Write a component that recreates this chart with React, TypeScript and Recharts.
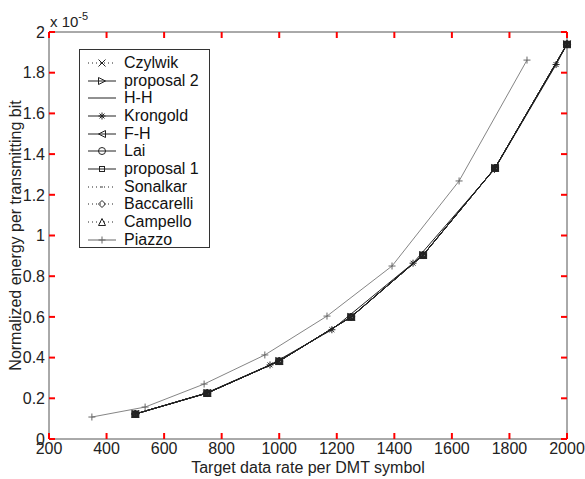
import React from 'react';
import {
  ComposedChart,
  Line,
  XAxis,
  YAxis,
  Legend,
} from 'recharts';

// target data rates (bits per DMT symbol) shared by most algorithms
const rates = [500, 750, 1000, 1250, 1500, 1750, 2000];
// normalized energy per bit (x 1e-5) - the overlapping curves
const mainEnergy = [0.123, 0.226, 0.383, 0.6, 0.904, 1.332, 1.94];

const krongoldRates = [500, 745, 968, 1183, 1465, 1748, 1962, 2000];
const krongoldEnergy = [0.123, 0.225, 0.364, 0.537, 0.864, 1.325, 1.84, 1.94];

const piazzoRates = [349, 534, 739, 950, 1166, 1392, 1625, 1861];
const piazzoEnergy = [0.108, 0.157, 0.27, 0.413, 0.604, 0.85, 1.268, 1.862];

const xTicks = [200, 400, 600, 800, 1000, 1200, 1400, 1600, 1800, 2000];
const yTicks = [0, 0.2, 0.4, 0.6, 0.8, 1, 1.2, 1.4, 1.6, 1.8, 2];

const toPoints = (xs: number[], ys: number[]) => xs.map((x, i) => ({ x, y: ys[i] }));

const mainPoints = toPoints(rates, mainEnergy);

type MarkerKind = 'x' | 'triRight' | 'none' | 'star' | 'triLeft' | 'circle' | 'square' | 'dot' | 'diamond' | 'triUp' | 'plus';

interface SeriesDef {
  name: string;
  marker: MarkerKind;
  dashed: boolean;
  color: string;
  data: { x: number; y: number }[];
}

const series: SeriesDef[] = [
  { name: 'Czylwik', marker: 'x', dashed: true, color: '#222', data: mainPoints },
  { name: 'proposal 2', marker: 'triRight', dashed: false, color: '#222', data: mainPoints },
  { name: 'H-H', marker: 'none', dashed: false, color: '#222', data: mainPoints },
  { name: 'Krongold', marker: 'star', dashed: false, color: '#222', data: toPoints(krongoldRates, krongoldEnergy) },
  { name: 'F-H', marker: 'triLeft', dashed: false, color: '#222', data: mainPoints },
  { name: 'Lai', marker: 'circle', dashed: false, color: '#222', data: mainPoints },
  { name: 'proposal 1', marker: 'square', dashed: false, color: '#222', data: mainPoints },
  { name: 'Sonalkar', marker: 'dot', dashed: true, color: '#222', data: mainPoints },
  { name: 'Baccarelli', marker: 'diamond', dashed: true, color: '#222', data: mainPoints },
  { name: 'Campello', marker: 'triUp', dashed: true, color: '#222', data: mainPoints },
  { name: 'Piazzo', marker: 'plus', dashed: false, color: '#666', data: toPoints(piazzoRates, piazzoEnergy) },
];

const FONT = '"Liberation Sans", Arial, Helvetica, sans-serif';
const AXIS_COLOR = '#555';
const TICK_COLOR = 'red';
const TICK_LEN = 6;

function Marker({ kind, cx, cy, color }: { kind: MarkerKind; cx: number; cy: number; color: string }) {
  const s = 3.5;
  const common = { stroke: color, strokeWidth: 1, fill: 'none' };
  switch (kind) {
    case 'x':
      return (
        <g {...common}>
          <line x1={cx - s} y1={cy - s} x2={cx + s} y2={cy + s} />
          <line x1={cx - s} y1={cy + s} x2={cx + s} y2={cy - s} />
        </g>
      );
    case 'plus':
      return (
        <g {...common}>
          <line x1={cx - s} y1={cy} x2={cx + s} y2={cy} />
          <line x1={cx} y1={cy - s} x2={cx} y2={cy + s} />
        </g>
      );
    case 'star':
      return (
        <g {...common}>
          <line x1={cx - s} y1={cy} x2={cx + s} y2={cy} />
          <line x1={cx} y1={cy - s} x2={cx} y2={cy + s} />
          <line x1={cx - s * 0.7} y1={cy - s * 0.7} x2={cx + s * 0.7} y2={cy + s * 0.7} />
          <line x1={cx - s * 0.7} y1={cy + s * 0.7} x2={cx + s * 0.7} y2={cy - s * 0.7} />
        </g>
      );
    case 'triRight':
      return <polygon {...common} points={`${cx + s},${cy} ${cx - s},${cy - s} ${cx - s},${cy + s}`} />;
    case 'triLeft':
      return <polygon {...common} points={`${cx - s},${cy} ${cx + s},${cy - s} ${cx + s},${cy + s}`} />;
    case 'triUp':
      return <polygon {...common} points={`${cx},${cy - s} ${cx - s},${cy + s} ${cx + s},${cy + s}`} />;
    case 'diamond':
      return <polygon {...common} points={`${cx},${cy - s} ${cx + s},${cy} ${cx},${cy + s} ${cx - s},${cy}`} />;
    case 'circle':
      return <circle {...common} cx={cx} cy={cy} r={s} />;
    case 'square':
      return <rect {...common} x={cx - s + 1} y={cy - s + 1} width={2 * s - 2} height={2 * s - 2} />;
    case 'dot':
      return <circle cx={cx} cy={cy} r={0.8} fill={color} />;
    default:
      return <g />;
  }
}

const renderLegend = () => (
  <div
    style={{
      border: '1px solid #333',
      background: '#fff',
      width: 129,
      height: 193,
      paddingTop: 4,
      boxSizing: 'content-box',
      fontFamily: FONT,
      fontSize: 16,
      color: '#111',
    }}
  >
    {series.map((s) => (
      <div key={s.name} style={{ display: 'flex', alignItems: 'center', height: 17.7 }}>
        <svg width={44} height={12} style={{ flex: 'none' }}>
          <line
            x1={8}
            x2={36}
            y1={6}
            y2={6}
            stroke={s.color}
            strokeWidth={1}
            strokeDasharray={s.dashed ? '1 3' : undefined}
          />
          <Marker kind={s.marker} cx={22} cy={6} color={s.color} />
        </svg>
        <span style={{ whiteSpace: 'nowrap' }}>{s.name}</span>
      </div>
    ))}
  </div>
);

const YLabel = ({ viewBox }: any) => {
  const x = viewBox.x + 15;
  const y = viewBox.y + viewBox.height / 2;
  return (
    <text
      x={x}
      y={y}
      transform={`rotate(-90, ${x}, ${y})`}
      textAnchor="middle"
      dominantBaseline="central"
      fontFamily={FONT}
      fontSize={16}
      fill="#222"
    >
      Normalized energy per transmitting bit
    </text>
  );
};

const XLabel = ({ viewBox }: any) => (
  <text
    x={viewBox.x + viewBox.width / 2}
    y={viewBox.y + 28}
    textAnchor="middle"
    dominantBaseline="central"
    fontFamily={FONT}
    fontSize={16}
    fill="#222"
  >
    Target data rate per DMT symbol
  </text>
);

const ExponentLabel = ({ viewBox }: any) => (
  <text x={viewBox.x + 1} y={viewBox.y - 4} fontFamily={FONT} fontSize={15} fill="#222">
    x 10
    <tspan dy={-7} fontSize={11}>
      -5
    </tspan>
  </text>
);

// ticks point inward (MATLAB style), so each tick draws its own short line
const BOTTOM_MARGIN = 3;
const LEFT_MARGIN = 4;

const BottomTick = ({ x, y, payload }: any) => (
  <g>
    <line x1={x} x2={x} y1={y - BOTTOM_MARGIN} y2={y - BOTTOM_MARGIN - TICK_LEN} stroke={TICK_COLOR} strokeWidth={2} />
    <text x={x} y={y} dy="0.75em" textAnchor="middle" fontFamily={FONT} fontSize={16} fill="#222">
      {payload.value}
    </text>
  </g>
);

const LeftTick = ({ x, y, payload }: any) => (
  <g>
    <line x1={x + LEFT_MARGIN} x2={x + LEFT_MARGIN + TICK_LEN} y1={y} y2={y} stroke={TICK_COLOR} strokeWidth={2} />
    <text x={x} y={y} dy="0.36em" textAnchor="end" fontFamily={FONT} fontSize={16} fill="#222">
      {String(payload.value)}
    </text>
  </g>
);

const TopTick = ({ x, y }: any) => (
  <line x1={x} x2={x} y1={y} y2={y + TICK_LEN} stroke={TICK_COLOR} strokeWidth={2} />
);

const RightTick = ({ x, y }: any) => (
  <line x1={x} x2={x - TICK_LEN} y1={y} y2={y} stroke={TICK_COLOR} strokeWidth={2} />
);

export default function App() {
  return (
    <div style={{ position: 'absolute', left: 0, top: 0, width: 585, height: 479 }}>
      <ComposedChart width={585} height={479} margin={{ top: 31, right: 17, bottom: 0, left: 0 }}>
        <XAxis
          dataKey="x"
          type="number"
          domain={[200, 2000]}
          ticks={xTicks}
          height={40}
          tickSize={0}
          tickMargin={BOTTOM_MARGIN}
          tickLine={false}
          stroke={AXIS_COLOR}
          tick={<BottomTick />}
          label={<XLabel />}
        />
        <XAxis
          xAxisId="t"
          orientation="top"
          dataKey="x"
          type="number"
          domain={[200, 2000]}
          ticks={xTicks}
          height={1}
          tickSize={0}
          tickMargin={0}
          tickLine={false}
          stroke={AXIS_COLOR}
          tick={<TopTick />}
          label={<ExponentLabel />}
        />
        <YAxis
          type="number"
          domain={[0, 2]}
          ticks={yTicks}
          width={49}
          tickSize={0}
          tickMargin={LEFT_MARGIN}
          tickLine={false}
          stroke={AXIS_COLOR}
          tick={<LeftTick />}
          label={<YLabel />}
        />
        <YAxis
          yAxisId="r"
          orientation="right"
          type="number"
          domain={[0, 2]}
          ticks={yTicks}
          width={1}
          tickSize={0}
          tickMargin={0}
          tickLine={false}
          stroke={AXIS_COLOR}
          tick={<RightTick />}
        />
        <Legend
          content={renderLegend}
          layout="vertical"
          align="center"
          verticalAlign="middle"
          wrapperStyle={{ left: 79, top: 49, width: 131 }}
        />
        {series.map((s) => (
          <Line
            key={s.name}
            data={s.data}
            dataKey="y"
            name={s.name}
            type="linear"
            stroke={s.color}
            strokeWidth={s.name === 'Piazzo' ? 0.8 : 1}
            strokeDasharray={s.dashed ? '1 3' : undefined}
            isAnimationActive={false}
            dot={(p: any) => (
              <Marker key={`${s.name}-${p.index}`} kind={s.marker} cx={p.cx} cy={p.cy} color={s.color} />
            )}
            activeDot={false}
          />
        ))}
        {/* invisible series so the top/right frame axes get rendered */}
        <Line
          xAxisId="t"
          yAxisId="r"
          data={mainPoints}
          dataKey="y"
          stroke="none"
          dot={false}
          activeDot={false}
          legendType="none"
          isAnimationActive={false}
        />
      </ComposedChart>
    </div>
  );
}
